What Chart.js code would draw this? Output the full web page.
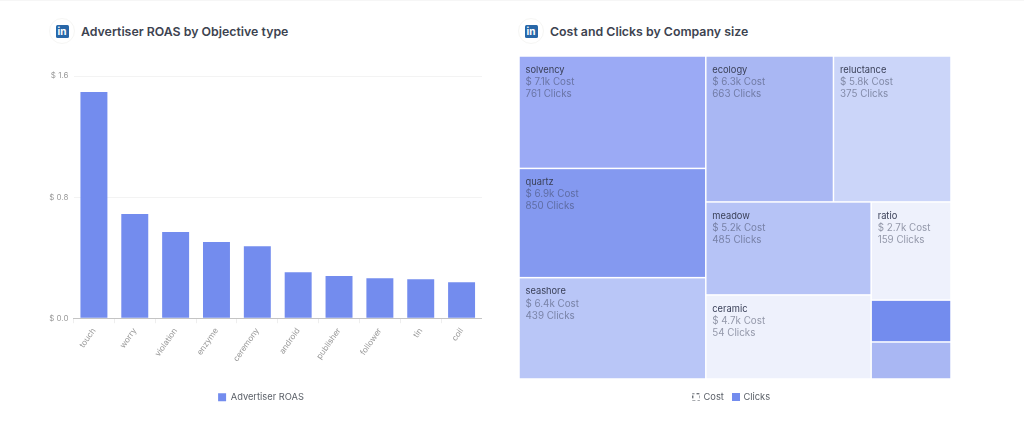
<!DOCTYPE html>
<html lang="en">
  <head>
    <meta charset="UTF-8" />
    <title>LinkedIn Ads</title>
    <style>
      body {
        margin: 0;
        width: 1024px;
        height: 424px;
        overflow: hidden;
        background: #fff;
        font-family: Inter, sans-serif;
        border-top: 1px solid #f6f6f6;
        box-sizing: border-box;
        position: relative;
      }
      .head {
        position: absolute;
        top: 17px;
        display: flex;
        align-items: center;
        height: 26px;
        font-size: 12.35px;
        font-weight: 600;
        color: #3d4350;
      }
      .icon {
        width: 26px;
        height: 26px;
        border: 1px solid #f6f6f4;
        border-radius: 50%;
        box-sizing: border-box;
        display: flex;
        align-items: center;
        justify-content: center;
        margin-right: 6px;
      }
      .icon span {
        width: 13px;
        height: 13px;
        background: #2867a8;
        border-radius: 1.5px;
        color: #fff;
        font-size: 10px;
        font-weight: 700;
        line-height: 13px;
        text-align: center;
      }
      canvas {
        position: absolute;
      }
    </style>
  </head>
  <body>
    <div class="head" style="left: 49px">
      <div class="icon"><span>in</span></div>
      Advertiser ROAS by Objective type
    </div>
    <div class="head" style="left: 518px">
      <div class="icon"><span>in</span></div>
      Cost and Clicks by Company size
    </div>
    <div style="position: absolute; left: 40px; top: 59px; width: 442px; height: 352px">
      <canvas id="roasChart"></canvas>
    </div>
    <div style="position: absolute; left: 504px; top: 54px; width: 447px; height: 357px">
      <canvas id="treeChart"></canvas>
    </div>

    <script src="https://cdn.jsdelivr.net/npm/chart.js"></script>
    <script>
      const objectives = ['touch', 'worry', 'violation', 'enzyme', 'ceremony', 'android', 'publisher', 'follower', 'tin', 'coil'];
      const roas = [1.494, 0.688, 0.569, 0.503, 0.476, 0.304, 0.278, 0.264, 0.258, 0.238];
      const roasTicks = [0, 0.8, 1.6];

      const sizes = ['solvency', 'quartz', 'seashore', 'ecology', 'reluctance', 'meadow', 'ceramic', 'ratio', '', ''];
      const cost = [7.1, 6.9, 6.4, 6.3, 5.8, 5.2, 4.7, 2.651, 1.13, 1.0];
      const clicks = [761, 850, 439, 663, 375, 485, 54, 159, 1000, 663];

      const BLUE = '#738cee';
      const cellColors = ['#9baaf5', '#8499f0', '#b9c6f7', '#a9b7f3', '#cbd5f9', '#b6c3f6', '#eef1fc', '#eef1fc', '#738cee', '#a9b7f3'];
      // nesting of the treemap, direction flips at every level
      const treeShape = [[0, 1, 2], [[3, 4], [[5, 6], [7, 8, 9]]]];

      Chart.defaults.font.family = 'Inter, sans-serif';
      Chart.defaults.animation = false;

      new Chart(document.getElementById('roasChart'), {
        type: 'bar',
        data: {
          labels: objectives,
          datasets: [
            {
              label: 'Advertiser ROAS',
              data: roas,
              backgroundColor: BLUE,
              barPercentage: 0.66,
              categoryPercentage: 1,
            },
          ],
        },
        options: {
          responsive: true,
          maintainAspectRatio: false,
          layout: { padding: { top: 16 } },
          plugins: {
            tooltip: { enabled: false },
            legend: {
              position: 'bottom',
              labels: { boxWidth: 8, boxHeight: 8, padding: 10, color: '#5b6068', font: { size: 9.3 } },
            },
          },
          scales: {
            x: {
              afterFit: (s) => { s.height = 64.5; },
              grid: { drawOnChartArea: false, color: '#eeeeee', tickLength: 5 },
              border: { color: '#c4c4c4' },
              ticks: { color: '#9a9a9a', font: { size: 8.2 }, minRotation: 55, maxRotation: 55, padding: 3 },
            },
            y: {
              min: 0,
              max: 1.6,
              afterFit: (s) => { s.width = 33.5; },
              afterBuildTicks: (s) => { s.ticks = roasTicks.map((v) => ({ value: v })); },
              grid: { color: '#f3f3f3', drawTicks: false },
              border: { display: false },
              ticks: { color: '#9a9a9a', font: { size: 8 }, padding: 5, callback: (v) => '$ ' + v.toFixed(1) },
            },
          },
        },
      });

      function total(node) {
        return Array.isArray(node) ? node.reduce((a, n) => a + total(n), 0) : cost[node];
      }

      // walks treeShape and hands every leaf its box in 0..1 scale units
      function layout(node, box, horizontal, out) {
        if (!Array.isArray(node)) {
          out.push({ i: node, ...box });
          return out;
        }
        const sum = total(node);
        let pos = horizontal ? box.x0 : box.y0;
        node.forEach((child) => {
          const span = ((horizontal ? box.x1 - box.x0 : box.y1 - box.y0) * total(child)) / sum;
          const next = horizontal ? { ...box, x0: pos, x1: pos + span } : { ...box, y0: pos, y1: pos + span };
          layout(child, next, !horizontal, out);
          pos += span;
        });
        return out;
      }

      const treePlugin = {
        id: 'treeCells',
        afterDatasetsDraw(chart) {
          const { ctx, scales } = chart;
          const cells = layout(treeShape, { x0: 0, x1: 1, y0: 0, y1: 1 }, true, []);
          cells.forEach((c) => {
            const x = scales.x.getPixelForValue(c.x0);
            const y = scales.y.getPixelForValue(c.y0);
            const w = scales.x.getPixelForValue(c.x1) - x;
            const h = scales.y.getPixelForValue(c.y1) - y;
            ctx.fillStyle = cellColors[c.i];
            ctx.fillRect(x + 0.75, y + 0.75, w - 1.5, h - 1.5);
            if (!sizes[c.i]) return;
            ctx.textBaseline = 'middle';
            ctx.font = '9.3px Inter, sans-serif';
            ctx.fillStyle = '#3a4058';
            ctx.fillText(sizes[c.i], x + 6.5, y + 14);
            ctx.font = '9.8px Inter, sans-serif';
            ctx.fillStyle = 'rgba(58, 64, 88, 0.5)';
            ctx.fillText('$ ' + cost[c.i].toFixed(1) + 'k Cost', x + 6.5, y + 26);
            ctx.fillText(clicks[c.i] + ' Clicks', x + 6.5, y + 38);
          });
        },
      };

      function legendIcon(draw) {
        const c = document.createElement('canvas');
        c.width = 8;
        c.height = 8;
        draw(c.getContext('2d'));
        return c;
      }
      const costIcon = legendIcon((g) => {
        g.strokeStyle = '#5b6068';
        g.setLineDash([2.5, 2.5]);
        g.lineDashOffset = 1.25;
        g.strokeRect(0.5, 0.5, 7, 7);
      });
      const clicksIcon = legendIcon((g) => {
        g.fillStyle = BLUE;
        g.fillRect(0, 0, 8, 8);
      });

      new Chart(document.getElementById('treeChart'), {
        type: 'scatter',
        data: { datasets: [{ label: 'Cost', data: [] }, { label: 'Clicks', data: [] }] },
        plugins: [treePlugin],
        options: {
          responsive: true,
          maintainAspectRatio: false,
          layout: { padding: { left: 9, top: 1 } },
          plugins: {
            tooltip: { enabled: false },
            legend: {
              position: 'bottom',
              labels: {
                padding: 10,
                color: '#5b6068',
                font: { size: 9.3 },
                usePointStyle: true,
                pointStyleWidth: 5,
                generateLabels: () => [
                  { text: 'Cost', pointStyle: costIcon, fontColor: '#5b6068', lineWidth: 0 },
                  { text: 'Clicks', pointStyle: clicksIcon, fontColor: '#5b6068', lineWidth: 0 },
                ],
              },
            },
          },
          scales: {
            // slack around the cells keeps the legend where it belongs
            x: { display: false, min: -0.0139, max: 1 },
            y: { display: false, min: 0, max: 1.0115, reverse: true },
          },
        },
      });
    </script>
  </body>
</html>
